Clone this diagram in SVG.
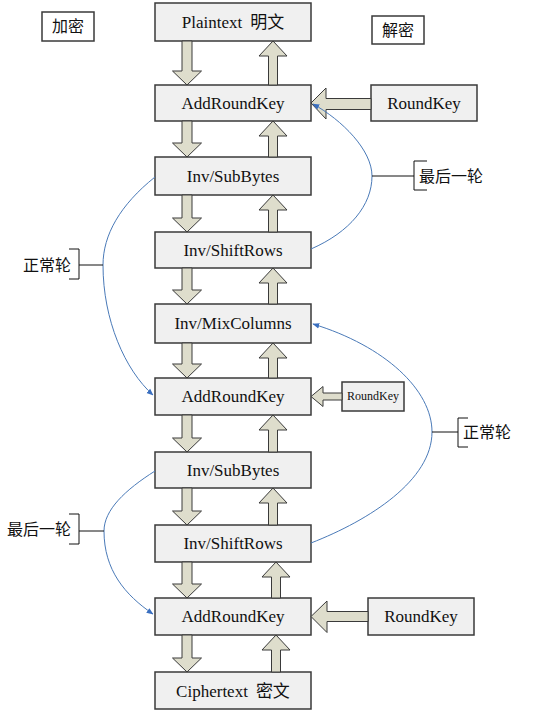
<svg xmlns="http://www.w3.org/2000/svg" width="555" height="712" viewBox="0 0 555 712">
<style>
.box{fill:#f0f0f0;stroke:#3a3a3a;stroke-width:1.5}
.lbl{fill:#ffffff;stroke:#3a3a3a;stroke-width:1.5}
.t{font-family:"Liberation Serif","Noto Sans CJK SC",serif;font-size:17px;fill:#111;text-anchor:middle}
.ts{font-family:"Liberation Serif","Noto Sans CJK SC",serif;font-size:12px;fill:#111;text-anchor:middle}
.c{font-family:"Liberation Serif","Noto Sans CJK SC",serif;font-size:16px;fill:#111}
.ar{fill:#deddcc;stroke:#3a3a3a;stroke-width:1}
.cv{fill:none;stroke:#4a7ab8;stroke-width:1}
.br{fill:none;stroke:#111;stroke-width:1}
</style>
<defs>
<marker id="bh" viewBox="0 0 10 10" refX="9" refY="5" markerWidth="7" markerHeight="7" orient="auto" markerUnits="userSpaceOnUse">
<path d="M0,1 L10,5 L0,9 Z" fill="#3a6fc0"/>
</marker>
</defs>
<rect width="555" height="712" fill="#ffffff"/>

<g id="enc-label"><rect class="lbl" x="42" y="12" width="52" height="29"/><text class="c" x="68" y="32" text-anchor="middle">加密</text></g>
<g id="dec-label"><rect class="lbl" x="372" y="16" width="52" height="28"/><text class="c" x="398" y="36" text-anchor="middle">解密</text></g>

<g id="plaintext"><rect class="box" x="155" y="3" width="156" height="38"/><text class="t" x="233" y="28">Plaintext<tspan dx="8">明文</tspan></text></g>
<g id="addroundkey1"><rect class="box" x="155" y="85" width="156" height="36"/><text class="t" x="233" y="109">AddRoundKey</text></g>
<g id="subbytes1"><rect class="box" x="155" y="157" width="156" height="38"/><text class="t" x="233" y="182">Inv/SubBytes</text></g>
<g id="shiftrows1"><rect class="box" x="155" y="232" width="156" height="36"/><text class="t" x="233" y="256">Inv/ShiftRows</text></g>
<g id="mixcolumns"><rect class="box" x="155" y="304" width="156" height="39"/><text class="t" x="233" y="329">Inv/MixColumns</text></g>
<g id="addroundkey2"><rect class="box" x="155" y="378" width="156" height="37"/><text class="t" x="233" y="402">AddRoundKey</text></g>
<g id="subbytes2"><rect class="box" x="155" y="452" width="156" height="36"/><text class="t" x="233" y="476">Inv/SubBytes</text></g>
<g id="shiftrows2"><rect class="box" x="155" y="525" width="156" height="37"/><text class="t" x="233" y="549">Inv/ShiftRows</text></g>
<g id="addroundkey3"><rect class="box" x="155" y="598" width="156" height="37"/><text class="t" x="233" y="622">AddRoundKey</text></g>
<g id="ciphertext"><rect class="box" x="155" y="672" width="156" height="37"/><text class="t" x="233" y="697">Ciphertext<tspan dx="8">密文</tspan></text></g>

<g id="roundkey1"><rect class="box" x="371" y="85" width="106" height="36"/><text class="t" x="424" y="109">RoundKey</text></g>
<g id="roundkey2"><rect class="box" x="342" y="382" width="62" height="29"/><text class="ts" x="373" y="400">RoundKey</text></g>
<g id="roundkey3"><rect class="box" x="368" y="598" width="106" height="37"/><text class="t" x="421" y="622">RoundKey</text></g>

<g id="connectors">
<polygon class="ar" points="182,41 192,41 192,71 201.5,71 187,85 172.5,71 182,71"/>
<polygon class="ar" points="182,121 192,121 192,143 201.5,143 187,157 172.5,143 182,143"/>
<polygon class="ar" points="182,195 192,195 192,218 201.5,218 187,232 172.5,218 182,218"/>
<polygon class="ar" points="182,268 192,268 192,290 201.5,290 187,304 172.5,290 182,290"/>
<polygon class="ar" points="182,343 192,343 192,364 201.5,364 187,378 172.5,364 182,364"/>
<polygon class="ar" points="182,415 192,415 192,438 201.5,438 187,452 172.5,438 182,438"/>
<polygon class="ar" points="182,488 192,488 192,511 201.5,511 187,525 172.5,511 182,511"/>
<polygon class="ar" points="182,562 192,562 192,584 201.5,584 187,598 172.5,584 182,584"/>
<polygon class="ar" points="182,635 192,635 192,658 201.5,658 187,672 172.5,658 182,658"/>
<polygon class="ar" points="273,41 287,56 277.5,56 277.5,85 268.5,85 268.5,56 259,56"/>
<polygon class="ar" points="273,121 287,136 277.5,136 277.5,157 268.5,157 268.5,136 259,136"/>
<polygon class="ar" points="273,195 287,210 277.5,210 277.5,232 268.5,232 268.5,210 259,210"/>
<polygon class="ar" points="273,268 287,283 277.5,283 277.5,304 268.5,304 268.5,283 259,283"/>
<polygon class="ar" points="273,343 287,358 277.5,358 277.5,378 268.5,378 268.5,358 259,358"/>
<polygon class="ar" points="273,415 287,430 277.5,430 277.5,452 268.5,452 268.5,430 259,430"/>
<polygon class="ar" points="273,488 287,503 277.5,503 277.5,525 268.5,525 268.5,503 259,503"/>
<polygon class="ar" points="276,562 290,577 280.5,577 280.5,598 271.5,598 271.5,577 262,577"/>
<polygon class="ar" points="276,635 290,650 280.5,650 280.5,672 271.5,672 271.5,650 262,650"/>
<polygon class="ar" points="311,103 326,88 326,98.5 371,98.5 371,109.5 326,109.5 326,119"/>
<polygon class="ar" points="311,396.5 323,386.5 323,393 342,393 342,400 323,400 323,406.5"/>
<polygon class="ar" points="311,616.5 327,601 327,611.5 368,611.5 368,621.5 327,621.5 327,632.5"/>
<path class="cv" marker-end="url(#bh)" d="M311,249 C350,232 372,205 372,176 C372,150 342,120 313,104"/>
<path class="cv" marker-end="url(#bh)" d="M155,177 C120,205 103,235 103,265 C103,320 125,370 153,395"/>
<path class="cv" marker-end="url(#bh)" d="M311,543 C370,520 432,480 432,432 C432,390 385,346 313,324"/>
<path class="cv" marker-end="url(#bh)" d="M155,471 C125,490 104,510 104,531 C104,570 125,595 153,614"/>
<path class="br" d="M372,176 H414 M427,161 H414 V190 H427"/>
<path class="br" d="M103,265 H79 M69,249 H79 V279 H69"/>
<path class="br" d="M432,432 H458 M468,418 H458 V447 H468"/>
<path class="br" d="M104,531 H79 M69,514 H79 V544 H69"/>
</g>

<text class="c" x="419" y="182" font-size="17">最后一轮</text>
<text class="c" x="23" y="271" font-size="17">正常轮</text>
<text class="c" x="463" y="438" font-size="17">正常轮</text>
<text class="c" x="7" y="535" font-size="17">最后一轮</text>
</svg>
